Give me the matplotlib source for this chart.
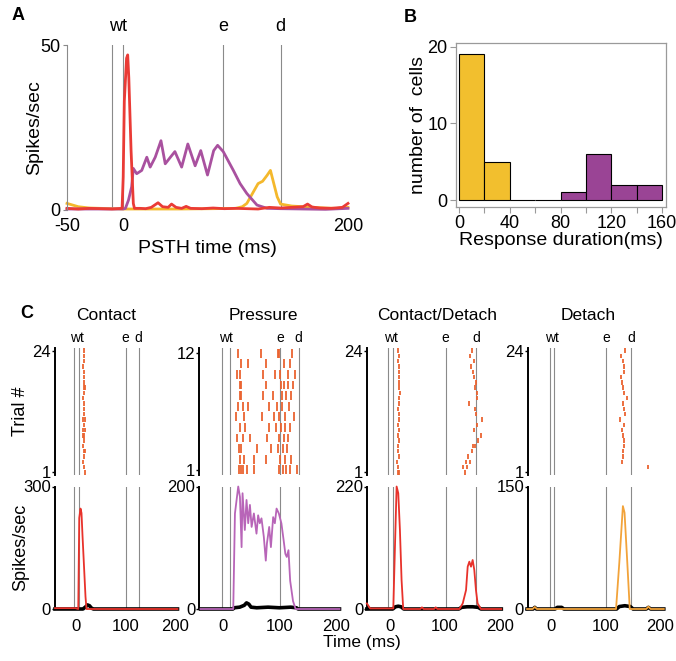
import matplotlib
matplotlib.use("Agg")
import matplotlib.pyplot as plt
import numpy as np

plt.rcParams['font.family'] = ['Liberation Sans', 'DejaVu Sans']

W, H = 676, 661
fig = plt.figure(figsize=(W / 100, H / 100), dpi=100)

def add_ax(l, t, r, b):
    return fig.add_axes([l / W, 1 - b / H, (r - l) / W, (b - t) / H])

# ---------------- Data: Panel A (PSTH, spikes/sec) ----------------
a_red_t = [-50, -40, -30, -20, -10, -1, 0, 1, 3, 4, 5, 7, 9, 10, 15, 20, 25, 28, 31, 35, 40, 43, 47,
           52, 56, 60, 70, 80, 90, 100, 110, 120, 130, 140, 150, 160, 164, 168, 175, 185, 195, 200]
a_red_v = [0.5, 0.3, 0.5, 0.4, 0.3, 0.5, 10, 33, 46, 47, 40, 18, 2, 0.5, 0.5, 0.4, 0.8, 1.5, 2.2, 1.0, 0.8, 1.8, 0.8,
           0.5, 1.1, 0.5, 0.4, 0.6, 0.4, 0.5, 0.4, 0.3, 0.8, 0.6, 0.8, 1.0, 1.8, 0.9, 0.6, 0.5, 0.8, 2.0]
a_pur_t = [-50, -20, 0, 2, 4.7, 7.5, 9, 12, 16.5, 21, 24, 28.5, 33.6, 37.4, 42, 46, 52, 57.5, 64, 69, 75,
           80.5, 84, 89, 98, 104, 110, 119, 128, 140, 160, 180, 200]
a_pur_v = [0.3, 0.3, 0.3, 0.5, 3, 7, 12.6, 11, 12, 16, 13, 16, 21, 14, 16, 17.7, 13, 20, 13.4, 18, 10.6,
           18, 19.6, 17.7, 12, 8, 5, 1.5, 0.5, 0.4, 0.3, 0.2, 0.5]
a_yel_t = [-50, -45, -40, -30, -20, 0, 20, 50, 80, 100, 106, 110, 115, 120, 124, 128, 131, 134, 137, 140,
           145, 150, 160, 170, 180, 190, 200]
a_yel_v = [2.0, 1.5, 1.0, 0.6, 0.5, 0.3, 0.3, 0.3, 0.4, 0.5, 1.0, 2.0, 5.0, 8.0, 8.7, 10.5, 12.0, 8.0, 4.0, 1.8,
           1.5, 1.2, 1.0, 0.8, 0.6, 0.5, 0.8]
a_events = [-10, 0, 89, 140]

# ---------------- Data: Panel B (histogram) ----------------
b_edges = [0, 20, 40, 60, 80, 100, 120, 140, 160]
b_counts = [19, 5, 0, 0, 1, 6, 2, 2]
b_group = ['short', 'short', 'short', 'short', 'long', 'long', 'long', 'long']

# ---------------- Data: Panel C ----------------
c_titles = ['Contact', 'Pressure', 'Contact/Detach', 'Detach']
c_ntrials = [24, 12, 24, 24]
c_ymax = [300, 200, 220, 150]
c_events = [[-3, 7, 100, 126], [-1, 12, 101, 134], [-3, 6, 101, 156], [-1, 6, 101, 147]]

# raster spike times (ms), one list per trial (trial 1 first)
contact_spikes = [[18], [16], [15], [17], [16, 18], [15], [16], [14, 17], [15, 19], [16], [15, 18], [16],
                  [17], [16], [15], [17], [16, 18], [16], [17], [16], [15], [16], [17], [16]]
pressure_spikes = [[29, 32, 35, 42, 55, 99, 107, 112, 118, 131],
                   [30, 37, 56, 77, 101, 110, 121],
                   [28, 33, 61, 86, 98, 106, 114],
                   [26, 36, 48, 78, 99, 108, 116],
                   [30, 40, 82, 94, 102, 110, 118],
                   [24, 38, 70, 90, 100, 110, 125],
                   [27, 35, 45, 82, 96, 104, 117],
                   [30, 33, 71, 89, 105, 112, 120],
                   [30, 32, 77, 103, 108, 115, 124],
                   [25, 30, 71, 92, 101, 115, 128],
                   [33, 45, 77, 108, 119],
                   [27, 67, 97, 99, 122]]
cd_spikes = [[14, 17, 136], [15, 133, 140], [13, 138, 145], [16, 142], [15, 148], [14, 150, 155], [16, 160],
             [15, 165], [16, 152], [15, 157], [17, 167], [16, 156], [15, 154], [17, 143], [16, 158],
             [18, 157], [16, 155], [17, 156], [16, 152], [17, 150], [16, 147], [15, 153], [16, 146], [15, 149]]
detach_spikes = [[], [178], [129], [131], [132], [134], [133], [132], [130], [134], [126], [136], [133],
                 [131], [139], [134], [132], [130], [128], [133], [134], [131], [128], [135]]
c_spikes = [contact_spikes, pressure_spikes, cd_spikes, detach_spikes]

# PSTH traces (colored = preferred response, black = other condition)
contact_t = [-41, 0, 5.5, 7.5, 10, 12, 14, 16, 18, 20, 22, 204]
contact_v = [2, 2, 0, 223, 246, 235, 180, 130, 80, 30, 0, 0]
contact_kt = [-41, 15, 20, 24, 28, 32, 36, 204]
contact_kv = [0, 0, 5, 10, 8, 2, 0, 0]

pressure_t = [-39, 17, 18.6, 21.6, 24.5, 27.4, 30.4, 33.3, 35, 39, 42, 45, 48, 51, 55, 59.6, 62.5, 65.4, 68.4,
              72.5, 76, 78, 82, 85, 89, 92, 95, 99, 103.5, 107.5, 110.5, 113, 116, 119, 124, 128.6, 206]
pressure_v = [0, 0, 0, 156, 178, 200, 183, 101, 189, 129, 178, 140, 170, 134, 156, 123, 153, 140, 148,
              118, 79, 107, 134, 101, 150, 140, 164, 156, 140, 112, 90, 85, 96, 46, 13, 0, 0]
pressure_kt = [-39, 18, 20, 30, 38, 42, 46, 50, 60, 80, 100, 120, 130, 133, 206]
pressure_kv = [0, 0, 2, 3, 6, 10, 8, 3, 2, 3, 2, 3, 2, 0, 0]

cd_t = [-42, -36, 6, 9, 12, 15, 18, 21, 24, 55, 58, 61, 80, 83, 86, 126, 132, 138, 141, 144, 147, 150,
        153, 156, 159, 165, 202]
cd_v = [10, 1, 1, 112, 220, 208, 142, 52, 0, 0, 3, 0, 0, 3, 0, 0, 10, 34, 76, 85, 76, 88, 70, 34, 10, 0, 0]
cd_kt = [-42, 5, 10, 15, 20, 25, 125, 130, 140, 150, 160, 165, 202]
cd_kv = [0, 0, 4, 5, 4, 0, 0, 3, 4, 4, 3, 0, 0]

detach_t = [-43, -33, -29, -25, 115, 119, 125, 131.5, 134.5, 139.5, 144, 174, 178, 182, 206]
detach_v = [0, 0, 2.5, 0, 0, 0, 57, 126, 118, 57, 0, 0, 3, 0, 0]
detach_kt = [-43, -32, -29, -26, 8, 12, 20, 24, 120, 125, 135, 145, 150, 174, 178, 182, 206]
detach_kv = [0, 0, 2, 0, 0, 2, 2, 0, 0, 3, 4, 3, 0, 0, 2, 0, 0]

c_traces = [(contact_t, contact_v, contact_kt, contact_kv),
            (pressure_t, pressure_v, pressure_kt, pressure_kv),
            (cd_t, cd_v, cd_kt, cd_kv),
            (detach_t, detach_v, detach_kt, detach_kv)]

# ---------------- Styles ----------------
RED = '#EA3B36'
PURPLE = '#A9519F'
YELLOW = '#F4B82C'
C_COLORS = ['#E8322B', '#B865B8', '#E8322B', '#F2A33A']
RASTER = '#EA6330'
B_YEL = '#F2BF2E'
B_PUR = '#9A4495'
GRAY = '#8a8a8a'

# ================= Panel A =================
axA = add_ax(67, 45, 348, 210)
axA.set_xlim(-50, 200)
axA.set_ylim(0, 50)
for x in a_events:
    axA.axvline(x, color=GRAY, lw=0.8, zorder=0)
axA.plot(a_yel_t, a_yel_v, color=YELLOW, lw=2, clip_on=False)
axA.plot(a_pur_t, a_pur_v, color=PURPLE, lw=2, clip_on=False)
axA.plot(a_red_t, a_red_v, color=RED, lw=2, clip_on=False)
for s in ['top', 'right', 'bottom']:
    axA.spines[s].set_visible(False)
axA.spines['left'].set_color(GRAY)
axA.spines['left'].set_linewidth(0.8)
axA.set_yticks([0, 50])
axA.set_xticks([-50, 0, 200])
axA.set_xticklabels(['-50', '0', '200'])
axA.tick_params(axis='y', length=3, width=0.8, color=GRAY, labelsize=13, pad=2)
axA.tick_params(axis='x', length=0, labelsize=13, pad=6)
axA.set_xlabel('PSTH time (ms)', fontsize=14)
axA.xaxis.set_label_coords(0.5, -0.182)
axA.set_ylabel('Spikes/sec', fontsize=14)
axA.yaxis.set_label_coords(-0.085, 0.5)
trA = axA.get_xaxis_transform()
axA.text((a_events[0] + a_events[1]) / 2, 1.06, 'wt', transform=trA, ha='center', va='bottom', fontsize=13)
axA.text(a_events[2], 1.06, 'e', transform=trA, ha='center', va='bottom', fontsize=13)
axA.text(a_events[3], 1.06, 'd', transform=trA, ha='center', va='bottom', fontsize=13)
fig.text(12 / W, 1 - 16 / H, 'A', fontsize=13, fontweight='bold', ha='left', va='center')

# ================= Panel B =================
axB = add_ax(456, 43, 666, 207)
b_colors = [B_YEL if g == 'short' else B_PUR for g in b_group]
axB.bar(b_edges[:-1], b_counts, width=20, align='edge', color=b_colors, edgecolor='black', linewidth=0.8)
axB.set_xlim(-2.4, 163)
axB.set_ylim(-0.9, 20.5)
for s in axB.spines.values():
    s.set_color('#9a9a9a')
    s.set_linewidth(0.9)
axB.set_yticks([0, 10, 20])
axB.set_xticks(b_edges)
axB.set_xticklabels(['0', '', '40', '', '80', '', '120', '', '160'])
axB.tick_params(axis='both', length=4, width=0.8, color='#9a9a9a', labelsize=13, pad=2)
axB.set_xlabel('Response duration(ms)', fontsize=14, labelpad=0)
axB.set_ylabel('number of  cells', fontsize=14)
axB.yaxis.set_label_coords(-0.138, 0.5)
fig.text(404 / W, 1 - 17 / H, 'B', fontsize=13, fontweight='bold', ha='left', va='center')

# ================= Panel C =================
c_zero = [75.5, 222.7, 390.0, 550.7]
c_scale = [0.5, 0.567, 0.551, 0.549]
XL, XR = -41, 204
title_x = [106, 263, 437, 588]

for i in range(4):
    left = c_zero[i] + XL * c_scale[i]
    right = c_zero[i] + XR * c_scale[i]
    width = right - left
    # raster
    axr = add_ax(left, 348, right, 475)
    n = c_ntrials[i]
    axr.set_xlim(XL, XR)
    axr.set_ylim(0.5, n + 0.5)
    for x in c_events[i]:
        axr.axvline(x, color=GRAY, lw=0.8, zorder=0)
    for k, trial in enumerate(c_spikes[i]):
        if trial:
            axr.vlines(trial, k + 1 - 0.42, k + 1 + 0.42, color=RASTER, lw=1.3)
    for s in ['top', 'right', 'bottom']:
        axr.spines[s].set_visible(False)
    axr.spines['left'].set_linewidth(1.4)
    axr.set_xticks([])
    axr.set_yticks([1, n])
    axr.tick_params(axis='y', length=2, width=1, labelsize=12, pad=1)
    ev = c_events[i]
    trr = axr.get_xaxis_transform()
    axr.text((ev[0] + ev[1]) / 2, 1.02, 'wt', transform=trr, ha='center', va='bottom', fontsize=10)
    axr.text(ev[2], 1.02, 'e', transform=trr, ha='center', va='bottom', fontsize=10)
    axr.text(ev[3], 1.02, 'd', transform=trr, ha='center', va='bottom', fontsize=10)
    if i == 0:
        axr.set_ylabel('Trial #', fontsize=13)
        axr.yaxis.set_label_coords((29 - left) / width, 0.5)

    # PSTH
    axp = add_ax(left, 486.5, right, 609)
    axp.set_xlim(XL, XR)
    axp.set_ylim(0, c_ymax[i])
    for x in c_events[i]:
        axp.axvline(x, color=GRAY, lw=0.8, zorder=0)
    t, v, kt, kv = c_traces[i]
    axp.plot(kt, kv, color='black', lw=2.6, clip_on=False, zorder=2)
    axp.plot(t, v, color=C_COLORS[i], lw=1.3, clip_on=False, zorder=3)
    for s in ['top', 'right', 'bottom']:
        axp.spines[s].set_visible(False)
    axp.spines['left'].set_linewidth(1.4)
    axp.set_yticks([0, c_ymax[i]])
    axp.set_xticks([0, 100, 200])
    axp.tick_params(axis='y', length=2, width=1, labelsize=12, pad=1)
    axp.tick_params(axis='x', length=0, labelsize=12, pad=7)
    if i == 0:
        axp.set_ylabel('Spikes/sec', fontsize=13)
        axp.yaxis.set_label_coords((29 - left) / width, 0.5)

    fig.text(title_x[i] / W, 1 - 316 / H, c_titles[i], fontsize=12.5, ha='center', va='center')

fig.text(362 / W, 1 - 642 / H, 'Time (ms)', fontsize=12.5, ha='center', va='center')
fig.text(20 / W, 1 - 314 / H, 'C', fontsize=13, fontweight='bold', ha='left', va='center')

fig.savefig('out.png', dpi=100)
